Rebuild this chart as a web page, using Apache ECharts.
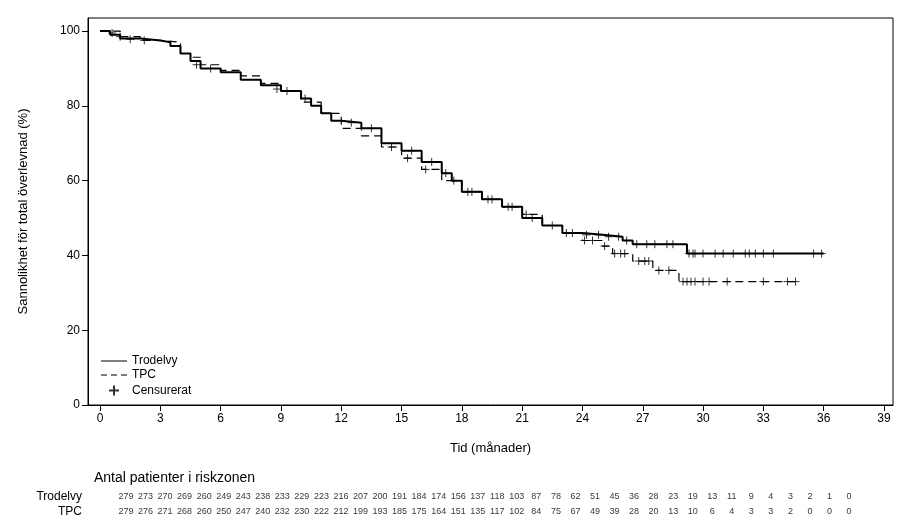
<!DOCTYPE html>
<html><head><meta charset="utf-8">
<script src="https://cdn.jsdelivr.net/npm/echarts@6/dist/echarts.min.js"></script>
<style>html,body{margin:0;background:#fff}#c{width:907px;height:525px}</style>
</head><body><div id="c"></div>
<script>
const trodelvy = [[0,100],[0.5,99],[1,98],[2,97.5],[3,97],[3.5,96],[4,94],[4.5,92],[5,90],[6,89],[7,87],[8,85.5],[9,84],[10,82],[10.5,80],[11,78],[11.5,76],[12,75.5],[13,74],[14,70],[15,68],[16,65],[17,62],[17.5,60],[18,57],[19,55],[20,53],[21,50],[22,48],[23,46],[24,45.5],[25,45],[26,44],[26.5,43],[29.2,40.5],[36,40.5]]
const tpc = [[0,100],[1,98.5],[2,97.5],[3,97],[4,94],[4.5,93],[5,91],[6,89.5],[7,88],[8,86],[9,84],[10,81],[11,78],[12,74],[13,72],[14,69],[15,66],[16,63],[17,60],[18,57],[19,55],[20,53],[21,51],[22,48],[23,46],[24,44],[25,42.5],[25.5,40.5],[26.5,38.5],[27.5,36],[28.8,33],[34.8,33]]
const censTrodelvy = [[0.6,99.5],[1.5,97.8],[2.2,97.5],[4.8,91],[8.8,84.5],[10.2,82],[12.5,75.5],[13.5,74],[15.5,68],[16.5,65],[17.2,62],[18.5,57],[19.5,55],[20.5,53],[21.5,50],[22.5,48],[23.5,46],[24.2,45.5],[24.8,45.5],[25.3,45],[25.8,45],[26.2,44],[26.7,43],[27.2,43],[27.6,43],[28.2,43],[28.5,43],[29.3,40.5],[29.5,40.5],[29.6,40.5],[30,40.5],[30.6,40.5],[31,40.5],[31.5,40.5],[32.1,40.5],[32.3,40.5],[32.6,40.5],[33,40.5],[33.5,40.5],[35.5,40.5],[35.9,40.5]]
const censTpc = [[1,98.5],[5.5,90],[9.3,84],[14.5,69],[15.3,66],[16.2,63],[17.6,60],[18.3,57],[19.3,55],[20.3,53],[21.2,51],[23.2,46],[24.1,44],[24.5,44],[25.1,42.5],[25.6,40.5],[25.9,40.5],[26.1,40.5],[26.8,38.5],[27.1,38.5],[27.3,38.5],[27.8,36],[28.3,36],[29.0,33],[29.2,33],[29.4,33],[29.6,33],[30.0,33],[30.3,33],[31.2,33],[33.0,33],[34.2,33],[34.6,33]]
const xTicks = [0,3,6,9,12,15,18,21,24,27,30,33,36,39]
const yTicks = [0,20,40,60,80,100]
const riskTrodelvy = [279,273,270,269,260,249,243,238,233,229,223,216,207,200,191,184,174,156,137,118,103,87,78,62,51,45,36,28,23,19,13,11,9,4,3,2,1,0]
const riskTpc = [279,276,271,268,260,250,247,240,232,230,222,212,199,193,185,175,164,151,135,117,102,84,75,67,49,39,28,20,13,10,6,4,3,3,2,0,0,0]

const plus = 'path://M5,0 L5,10 M0,5 L10,5'
const font = 'Arial, "Liberation Sans", sans-serif'
const cols = riskTrodelvy.map((_, i) => String(i))

const chart = echarts.init(document.getElementById('c'))
chart.setOption({
  animation: false,
  textStyle: { fontFamily: font, color: '#000' },
  title: { text: 'Antal patienter i riskzonen', left: 89, top: 466, textStyle: { fontSize: 14, fontWeight: 'normal', fontFamily: font, color: '#000' } },
  grid: [
    { left: 88, right: 14, top: 18, height: 387, show: true, borderColor: '#000', borderWidth: 1 },
    { left: 126, right: 58, top: 489, height: 30 }
  ],
  legend: {
    orient: 'vertical', left: 96, top: 350, itemGap: 2, itemWidth: 26, itemHeight: 10,
    textStyle: { fontSize: 12, fontFamily: font, color: '#000' },
    data: [
      { name: 'Trodelvy', icon: 'path://M0,5 L26,5 L26,6 L0,6 Z' },
      { name: 'TPC', icon: 'path://M0,5 L6,5 L6,6 L0,6 Z M10,5 L16,5 L16,6 L10,6 Z M20,5 L26,5 L26,6 L20,6 Z' },
      { name: 'Censurerat', icon: plus }
    ]
  },
  xAxis: [
    { type: 'value', gridIndex: 0, min: -0.6, max: 39.45,
      axisLine: { onZero: false, lineStyle: { color: '#000' } },
      axisTick: { lineStyle: { color: '#000' }, length: 6, customValues: xTicks },
      axisLabel: { fontSize: 12, color: '#000', customValues: xTicks },
      splitLine: { show: false },
      name: 'Tid (månader)', nameLocation: 'middle', nameGap: 37, nameTextStyle: { fontSize: 13, color: '#000' } },
    { type: 'category', gridIndex: 1, data: cols, boundaryGap: false, show: false }
  ],
  yAxis: [
    { type: 'value', gridIndex: 0, min: 0, max: 103.5,
      axisLine: { show: true, onZero: false, lineStyle: { color: '#000' } },
      axisTick: { show: true, lineStyle: { color: '#000' }, length: 6, customValues: yTicks },
      axisLabel: { fontSize: 12, color: '#000', customValues: yTicks },
      splitLine: { show: false },
      name: 'Sannolikhet för total överlevnad (%)', nameLocation: 'middle', nameGap: 58, nameTextStyle: { fontSize: 13, color: '#000' } },
    { type: 'category', gridIndex: 1, data: ['TPC', 'Trodelvy'], boundaryGap: true,
      axisLine: { show: false }, axisTick: { show: false },
      axisLabel: { fontSize: 12, color: '#000', margin: 44, interval: 0 } }
  ],
  series: [
    { name: 'Trodelvy', type: 'line', step: 'end', data: trodelvy, showSymbol: false, symbol: 'none',
      lineStyle: { color: '#000', width: 2 }, itemStyle: { color: '#000' } },
    { name: 'TPC', type: 'line', step: 'end', data: tpc, showSymbol: false, symbol: 'none',
      lineStyle: { color: '#000', width: 1.2, type: [8, 5] }, itemStyle: { color: '#000' } },
    { name: 'Censurerat', type: 'scatter', data: censTrodelvy.concat(censTpc), symbol: plus, symbolSize: 8,
      itemStyle: { color: 'none', borderColor: '#000', borderWidth: 1 } },
    { type: 'scatter', xAxisIndex: 1, yAxisIndex: 1, symbolSize: 0, silent: true,
      data: riskTrodelvy.map((v, i) => [String(i), 'Trodelvy', v]),
      label: { show: true, position: 'inside', formatter: p => p.data[2], fontSize: 9, color: '#000' } },
    { type: 'scatter', xAxisIndex: 1, yAxisIndex: 1, symbolSize: 0, silent: true,
      data: riskTpc.map((v, i) => [String(i), 'TPC', v]),
      label: { show: true, position: 'inside', formatter: p => p.data[2], fontSize: 9, color: '#000' } }
  ]
})
</script></body></html>
